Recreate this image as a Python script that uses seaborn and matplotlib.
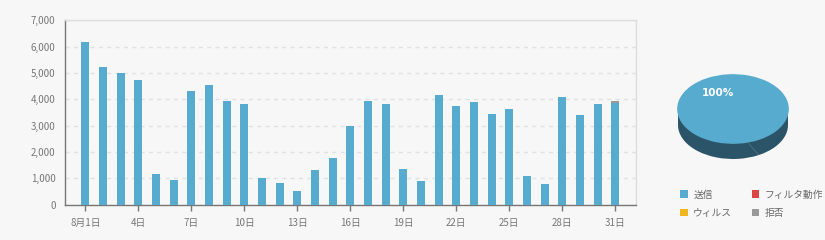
import matplotlib
matplotlib.use('Agg')
import matplotlib.pyplot as plt
import seaborn as sns
import pandas as pd
from matplotlib.patches import Patch, Rectangle

# ---- data ----
days = list(range(1, 32))
sent = [6170, 5220, 4995, 4730, 1175, 945, 4315, 4540, 3935, 3820,
        1020, 830, 530, 1325, 1780, 2990, 3935, 3820, 1360, 910,
        4160, 3745, 3895, 3445, 3630, 1095, 795, 4085, 3405, 3820, 3860]
filtered = [0] * 31
virus = [0] * 31
rejected = [0] * 30 + [75]
tick_days = [1, 4, 7, 10, 13, 16, 19, 22, 25, 28, 31]
tick_labels = ['8月1日', '4日', '7日', '10日', '13日', '16日', '19日', '22日', '25日', '28日', '31日']
yticks = [0, 1000, 2000, 3000, 4000, 5000, 6000, 7000]
series_names = ['送信', 'フィルタ動作', 'ウィルス', '拒否']

# ---- style ----
BG = '#F7F7F7'
C_SENT = '#57ABCF'
C_FILT = '#DD4444'
C_VIRUS = '#F0B820'
C_REJ = '#999999'
SIDE = {'送信': '#2C5468', 'フィルタ動作': '#7A2626', 'ウィルス': '#8A6A12', '拒否': '#284B5D'}
TXT = '#777777'

sns.set_theme(style='white')
plt.rcParams['font.family'] = ['Noto Sans CJK JP', 'DejaVu Sans']

fig = plt.figure(figsize=(8.25, 2.4), dpi=100, facecolor=BG)
ax = fig.add_axes([65.3 / 825, (240 - 204.7) / 240, (635.7 - 65.3) / 825, (204.7 - 20.3) / 240])
ax.set_facecolor(BG)

total = [s + f + v + r for s, f, v, r in zip(sent, filtered, virus, rejected)]
df = pd.DataFrame({'day': days, 'sent': sent, 'total': total})

sns.barplot(data=df, x='day', y='total', color=C_REJ, width=0.45, saturation=1,
            ax=ax, linewidth=0, zorder=2)
sns.barplot(data=df, x='day', y='sent', color=C_SENT, width=0.45, saturation=1,
            ax=ax, linewidth=0, zorder=3)

ax.set_xlabel('')
ax.set_ylabel('')
ax.set_xlim(-1.13, 30 + 1.15)
ax.set_ylim(0, 7000)
ax.set_xticks([d - 1 for d in tick_days])
ax.set_xticklabels(tick_labels)
ax.set_yticks(yticks)
ax.set_yticklabels([f'{v:,}' for v in yticks])

ax.yaxis.grid(True, linestyle=(0, (3, 3)), color='#E2E2E2', linewidth=1)
ax.xaxis.grid(False)
ax.set_axisbelow(True)

for side in ['top', 'right']:
    ax.spines[side].set_color('#DDDDDD')
    ax.spines[side].set_linewidth(1)
for side in ['left', 'bottom']:
    ax.spines[side].set_color('#777777')
    ax.spines[side].set_linewidth(1)

ax.tick_params(axis='x', bottom=True, length=4, width=1, color='#777777',
               labelsize=7, labelcolor=TXT, pad=5.5, direction='out')
ax.tick_params(axis='y', left=False, length=0, labelsize=7, labelcolor=TXT, pad=7)

# ---- pie (pseudo 3D) ----
pie_values = [sum(sent), sum(filtered), sum(virus), sum(rejected)]
top_colors = [C_SENT, C_FILT, C_VIRUS, C_REJ]
side_colors = [SIDE[n] for n in series_names]

pax = fig.add_axes([673 / 825, (240 - 165) / 240, 120 / 825, 95 / 240])
pax.set_facecolor(BG)
depth = 16 / 34
pax.add_patch(Rectangle((-1, -depth), 2, depth, facecolor=side_colors[0], linewidth=0, zorder=0.5))
pax.pie(pie_values, colors=side_colors, center=(0, -depth), radius=1,
        startangle=-62, counterclock=True, wedgeprops=dict(linewidth=0, zorder=0.5))
top_wedges, _ = pax.pie(pie_values, colors=top_colors, center=(0, 0), radius=1,
                        startangle=-62, counterclock=True,
                        wedgeprops=dict(linewidth=0, zorder=1))
top_wedges[0].set_edgecolor(C_SENT)
top_wedges[0].set_linewidth(1.2)
top_wedges[0].set_zorder(2)
pax.set_aspect('auto')
pax.set_xlim(-60 / 55, 60 / 55)
pax.set_ylim(-(165 - 109) / 34, (109 - 70) / 34)
pax.axis('off')
pct = round(100 * pie_values[0] / sum(pie_values))
pax.text(-0.27, 0.47, f'{pct}%', color='white', fontsize=7.5, fontweight='bold',
         ha='center', va='center', family=['DejaVu Sans'], zorder=3)

# ---- legend ----
handles = [Patch(facecolor=c, edgecolor='none', label=n) for c, n in zip(top_colors, series_names)]
order = [0, 2, 1, 3]
fig.legend(handles=[handles[i] for i in order], loc='upper left',
           bbox_to_anchor=(680 / 825, (240 - 189.5) / 240), ncol=2, frameon=False,
           fontsize=7, handlelength=0.8, handleheight=0.8, handletextpad=0.55,
           columnspacing=2.0, labelspacing=0.85, labelcolor='#666666',
           borderaxespad=0, borderpad=0)

fig.savefig('out.png', dpi=100, facecolor=BG)
